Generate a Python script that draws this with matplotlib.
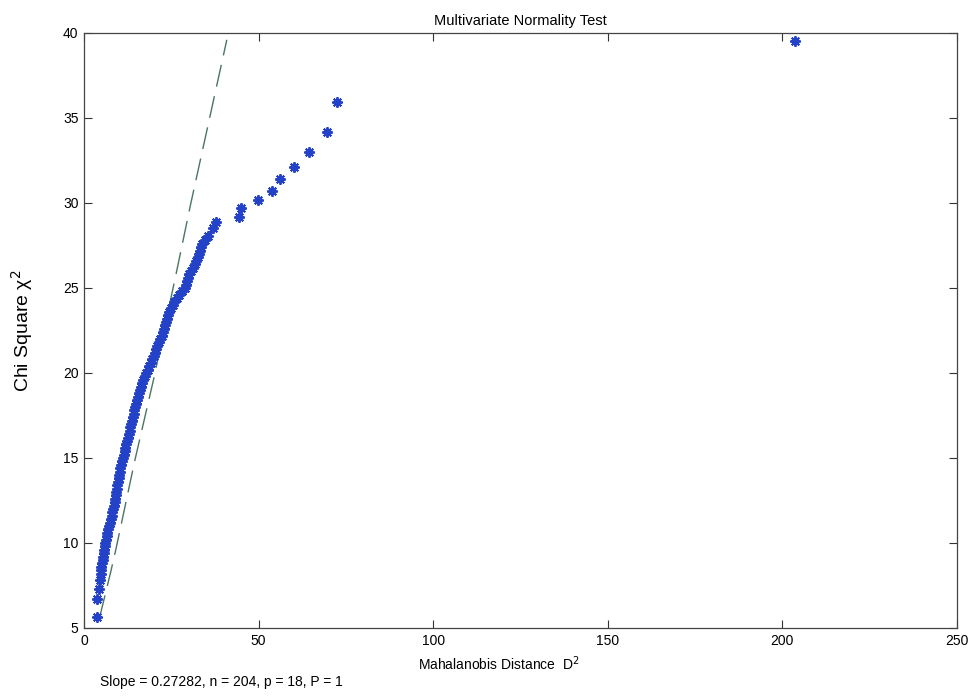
import matplotlib
matplotlib.use("Agg")
import matplotlib.pyplot as plt

plt.rcParams['font.family'] = ['Liberation Sans', 'DejaVu Sans']

# Mahalanobis distance D^2 (x) against chi-square quantile (y)
d2 = [3.8, 3.8, 4.3, 4.5,
      4.8, 4.9, 5.0, 5.2, 5.3, 5.45, 5.6, 5.75, 5.9, 6.05,
      6.2, 6.45, 6.7, 7.0, 7.25, 7.5, 7.75, 7.95, 8.15, 8.35,
      8.6, 8.8, 8.95, 9.1, 9.25, 9.4, 9.55, 9.7, 9.9, 10.05,
      10.2, 10.4, 10.65, 10.9, 11.1, 11.35, 11.6, 11.85, 12.1, 12.4,
      12.65, 12.85, 13.05, 13.25, 13.5, 13.7, 13.95, 14.2, 14.4, 14.65,
      14.9, 15.1, 15.4, 15.7, 16.0, 16.3, 16.6, 17.0, 17.4, 17.8,
      18.3, 18.7, 19.1, 19.5, 19.95, 20.3, 20.65, 21.0, 21.4, 21.8,
      22.2, 22.6, 22.95, 23.2, 23.5, 23.8, 24.05, 24.4, 24.9, 25.4,
      25.85, 26.5, 27.3, 28.1, 28.8, 29.3, 29.6, 29.9, 30.2, 30.6,
      31.2, 31.7, 32.2, 32.6, 33.0, 33.3, 33.5, 33.9, 34.6, 35.4,
      36.9, 37.8, 44.4, 44.9, 49.7, 53.7, 56.0, 60.0, 64.3, 69.7,
      72.5, 203.5]
chi2 = [5.65, 6.7, 7.3, 7.85,
        8.2, 8.4, 8.6, 8.8, 9.0, 9.2, 9.4, 9.6, 9.8, 10.0,
        10.2, 10.4, 10.6, 10.8, 11.0, 11.2, 11.4, 11.6, 11.8, 12.0,
        12.2, 12.4, 12.6, 12.8, 13.0, 13.2, 13.4, 13.6, 13.8, 14.0,
        14.2, 14.4, 14.6, 14.8, 15.0, 15.2, 15.4, 15.6, 15.8, 16.0,
        16.2, 16.4, 16.6, 16.8, 17.0, 17.2, 17.4, 17.6, 17.8, 18.0,
        18.2, 18.4, 18.6, 18.8, 19.0, 19.2, 19.4, 19.6, 19.8, 20.0,
        20.2, 20.4, 20.6, 20.8, 21.0, 21.2, 21.4, 21.6, 21.8, 22.0,
        22.2, 22.4, 22.6, 22.8, 23.0, 23.2, 23.4, 23.6, 23.8, 24.0,
        24.2, 24.4, 24.6, 24.8, 25.0, 25.2, 25.4, 25.6, 25.8, 26.0,
        26.2, 26.4, 26.6, 26.8, 27.0, 27.2, 27.4, 27.6, 27.8, 28.05,
        28.5, 28.9, 29.2, 29.7, 30.2, 30.7, 31.4, 32.1, 33.0, 34.2,
        35.95, 39.55]

# reference line
ref_x = [4.5, 7.65, 9.1, 14.6, 19.9, 26.8, 30.4, 40.9]
ref_y = [5.65, 8.3, 9.6, 14.9, 19.6, 26.25, 29.8, 39.6]

xticks = [0, 50, 100, 150, 200, 250]
yticks = [5, 10, 15, 20, 25, 30, 35, 40]

fig = plt.figure(figsize=(9.78, 6.97), dpi=100)
ax = fig.add_axes([0.0859, 0.099, 0.8926, 0.8537])

ax.plot(ref_x, ref_y, color='#4a7562', lw=1.0, dashes=(16, 7))
ax.plot(d2, chi2, linestyle='none', marker=(8, 2, 0), markersize=7.5,
        color='#2442c8', markeredgewidth=1.4)

ax.set_xlim(0, 250)
ax.set_ylim(5, 40)
ax.set_xticks(xticks)
ax.set_yticks(yticks)
ax.tick_params(direction='in', length=6, top=True, right=True,
               labelsize=10, color='#333333', pad=4)
for s in ax.spines.values():
    s.set_color('#444444')
    s.set_linewidth(0.9)

ax.set_title('Multivariate Normality Test', fontsize=10.5, pad=6)
ax.set_xlabel('Mahalanobis Distance  D$^2$', fontsize=10)
ax.xaxis.set_label_coords(0.475, -0.045)
ax.set_ylabel('Chi Square χ$^2$', fontsize=14)
ax.yaxis.set_label_coords(-0.056, 0.5)

fig.text(0.102, 0.016, 'Slope = 0.27282, n = 204, p = 18, P = 1', fontsize=10)

fig.savefig('out.png', dpi=100)
